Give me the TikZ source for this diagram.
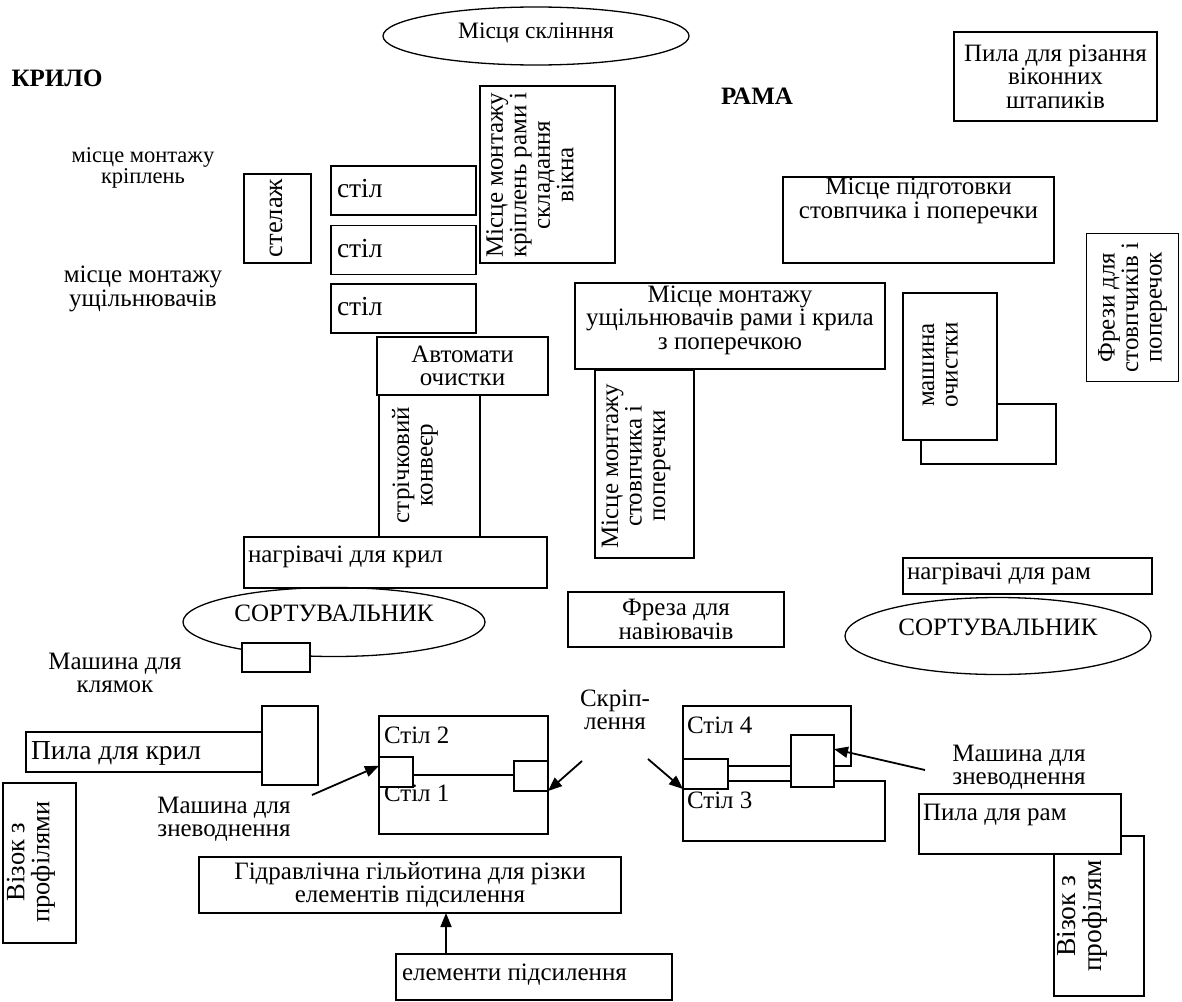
\documentclass[tikz,border=0pt]{standalone}
\usepackage{fontspec}
\setmainfont{Liberation Serif}
\usetikzlibrary{arrows.meta,shapes.geometric}
\begin{document}
\begin{tikzpicture}[x=1pt,y=-1pt,
  every node/.style={font=\fontsize{25}{23.5}\selectfont, inner sep=0pt, outer sep=0pt},
  box/.style={draw, fill=white, line width=1.3pt},
  oval/.style={draw, ellipse, line width=1.3pt},
  heading/.style={font=\fontsize{25}{25}\selectfont\bfseries},
  big/.style={font=\fontsize{27.5}{26}\selectfont},
  mid/.style={font=\fontsize{26.5}{25}\selectfont},
  small/.style={font=\fontsize{22.5}{21}\selectfont},
  arr/.style={line width=1.8pt, -{Triangle[length=14pt,width=11pt]}},
  vtext/.style={rotate=90, align=center},
  ]
\fill[white] (0,0) rectangle (1182,1001);
\useasboundingbox (0,0) rectangle (1182,1001);

% headings
\node[heading] (krylo) at (57,78) {КРИЛО};
\node[heading] (rama) at (757,96) {РАМА};

% top
\node[oval, minimum width=306pt, minimum height=58pt] (glaze) at (536,36) {};
\node[font=\fontsize{23.5}{23}\selectfont] (glazet) at (536,33) {Місця склінння};
\node[box, minimum width=203pt, minimum height=89pt, align=center] (pilashtap) at (1055.5,76.5) {Пила для різання\\віконних\\штапиків};
\node[box, minimum width=135pt, minimum height=177pt] (mkrip) at (547.5,174.5) {};
\node[vtext] (mkript) at (530,175) {Місце монтажу\\кріплень рами і\\складання\\вікна};

% left labels
\node[small, align=center] (lblkrip) at (143,168) {місце монтажу\\кріплень};
\node[align=center] (lblushch) at (143,289) {місце монтажу\\ущільнювачів};

\node[box, minimum width=67pt, minimum height=89pt] (stelazh) at (277.5,218.5) {};
\node[rotate=90, mid] (stelazht) at (276,218) {стелаж};
\node[box, minimum width=145pt, minimum height=49pt] (stilA) at (403.5,190.5) {};
\node[big, anchor=west] (stilAt) at (337,189) {стіл};
\node[box, minimum width=145pt, minimum height=49pt] (stilB) at (403.5,250) {};
\node[big, anchor=west] (stilBt) at (337,248.5) {стіл};
\node[box, minimum width=145pt, minimum height=49pt] (stilC) at (403.5,308.5) {};
\node[big, anchor=west] (stilCt) at (337,307) {стіл};

% right upper
\node[box, minimum width=271pt, minimum height=86pt] (pidg) at (918.5,220) {};
\node[align=center] (pidgt) at (918.5,201) {Місце підготовки\\стовпчика і поперечки};
\node[box, vtext, minimum width=148pt, minimum height=92pt] (frezy) at (1132.5,307.5) {Фрези для\\стовпчиків і\\поперечок};
\node[box, minimum width=310pt, minimum height=86pt] (mushch) at (730,326) {};
\node[align=center] (mushcht) at (730,320) {Місце монтажу\\ущільнювачів рами і крила\\з поперечкою};
\node[box, minimum width=135pt, minimum height=60pt] (ochback) at (988.5,434) {};
\node[box, minimum width=94pt, minimum height=147pt] (ochyst) at (950,366.5) {};
\node[vtext] (ochystt) at (940,365) {машина\\очистки};

% middle column
\node[box, minimum width=171pt, minimum height=58pt, align=center] (avtom) at (462.5,366) {Автомати\\очистки};
\node[box, minimum width=101pt, minimum height=142pt] (konv) at (429.5,466) {};
\node[vtext] (konvt) at (415,465) {стрічковий\\конвеєр};
\node[box, minimum width=99pt, minimum height=188pt] (mstovp) at (644.5,464) {};
\node[vtext] (mstovpt) at (636,466) {Місце монтажу\\стовпчика і\\поперечки};
\node[box, minimum width=303pt, minimum height=51pt] (nagrkr) at (395.5,562.5) {};
\node[anchor=west] (nagrkrt) at (248,557) {нагрівачі для крил};
\node[oval, minimum width=302pt, minimum height=69pt] (sortL) at (334,622) {};
\node (sortLt) at (334,613) {СОРТУВАЛЬНИК};
\node[box, minimum width=68pt, minimum height=29pt] (klyam) at (276,657.5) {};
\node[align=center] (klyamt) at (115,673) {Машина для\\клямок};
\node[box, minimum width=216pt, minimum height=55pt, align=center] (freza) at (676,619.5) {Фреза для\\навіювачів};
\node[box, minimum width=249pt, minimum height=36pt] (nagrram) at (1027.5,576) {};
\node[anchor=west] (nagrramt) at (907,574) {нагрівачі для рам};
\node[oval, minimum width=306pt, minimum height=77pt] (sortR) at (998,636) {};
\node (sortRt) at (998,627) {СОРТУВАЛЬНИК};

% bottom left
\node[box, minimum width=238pt, minimum height=40pt] (pilakr) at (145,752) {};
\node[big, anchor=west] (pilakrt) at (31,753) {Пила для крил};
\node[box, minimum width=56pt, minimum height=79pt] (pilakr2) at (290,745.5) {};
\node[box, minimum width=73pt, minimum height=160pt] (vizokL) at (39.5,863) {};
\node[vtext, mid] (vizokLt) at (31,862) {Візок з\\профілями};
\node[align=center] (zneL) at (224,819) {Машина для\\зневоднення};

% tables 1-2
\node[box, minimum width=169pt, minimum height=59pt] (stil2) at (463.5,745.5) {};
\node[box, minimum width=169pt, minimum height=59pt] (stil1) at (463.5,804.5) {};
\node[anchor=west] (stil2t) at (384,735) {Стіл 2};
\node[anchor=west] (stil1t) at (384,793) {Стіл 1};
\node[box, minimum width=34pt, minimum height=30pt] (sqL) at (396,772) {};
\node[box, minimum width=34pt, minimum height=30pt] (sqR) at (531,776) {};

\node[align=center] (skrip) at (615,710) {Скріп-\\лення};

% tables 3-4
\node[box, minimum width=168pt, minimum height=60pt] (stil4) at (767,736) {};
\node[box, minimum width=202pt, minimum height=60pt] (stil3) at (784,811) {};
\node[anchor=west] (stil4t) at (687,725) {Стіл 4};
\node[anchor=west] (stil3t) at (687,800) {Стіл 3};
\node[box, minimum width=45pt, minimum height=30pt] (sq3L) at (705.5,774) {};
\node[box, minimum width=43pt, minimum height=52pt] (sq3R) at (812.5,761) {};
\node[align=center] (zneR) at (1019,767) {Машина для\\зневоднення};

% bottom right
\node[box, minimum width=90pt, minimum height=160pt] (vizokR) at (1099,916) {};
\node[vtext, big] (vizokRt) at (1082,916) {Візок з\\профілям};
\node[box, minimum width=202pt, minimum height=60pt] (pilaram) at (1020,824) {};
\node[anchor=west] (pilaramt) at (923,815) {Пила для рам};

% guillotine
\node[box, minimum width=422pt, minimum height=56pt, align=center] (gilyot) at (410,885) {Гідравлічна гільйотина для різки\\елементів підсилення};
\node[box, minimum width=276pt, minimum height=46pt] (elem) at (534,977) {};
\node[anchor=west] (elemt) at (402,975) {елементи підсилення};

% arrows
\coordinate (zneLs) at (312,795);
\draw[arr] (zneLs) -- (sqL.160);
\coordinate (skripA) at (582,761);
\draw[arr] (skripA) -- (sqR.south east);
\coordinate (skripB) at (648,759);
\draw[arr] (skripB) -- (sq3L.south west);
\coordinate (zneRs) at (925,770);
\draw[arr] (zneRs) -- (sq3R.29);
\coordinate (upx) at (446,0);
\draw[arr] (elem.north -| upx) -- (gilyot.south -| upx);
\end{tikzpicture}
\end{document}
